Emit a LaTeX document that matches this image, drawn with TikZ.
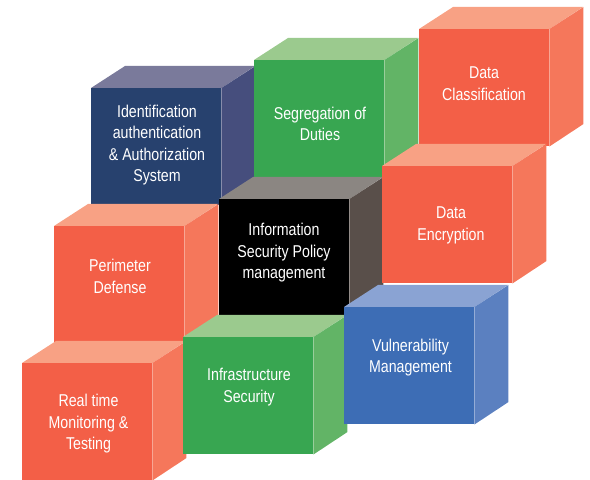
\documentclass[tikz,border=0pt]{standalone}
\usepackage{xcolor}
\usepackage{tikz}
\usepackage{fontspec}
\newfontfamily\condfont[FakeStretch=0.83]{Liberation Sans}

% face colours: front / top / side
\definecolor{navyF}{HTML}{27416E}
\definecolor{navyT}{HTML}{7A7A9B}
\definecolor{navyS}{HTML}{464E7D}
\definecolor{greenF}{HTML}{38A651}
\definecolor{greenT}{HTML}{9BCA8E}
\definecolor{greenS}{HTML}{62B466}
\definecolor{redF}{HTML}{F35F47}
\definecolor{redT}{HTML}{F8A184}
\definecolor{redS}{HTML}{F5775B}
\definecolor{blackF}{HTML}{000000}
\definecolor{blackT}{HTML}{8B8682}
\definecolor{blackS}{HTML}{594F4A}
\definecolor{blueF}{HTML}{3D6DB5}
\definecolor{blueT}{HTML}{8AA3D3}
\definecolor{blueS}{HTML}{5B80C0}

\tikzset{
  front/.style={minimum width=3.9cm, minimum height=3.51cm, inner sep=0pt, anchor=north west},
  txt/.style={text=white, align=center, font=\condfont\fontsize{14.6}{18.3}\selectfont}
}

\begin{document}
\begin{tikzpicture}[x=0.03cm, y=0.03cm]
    \useasboundingbox (0,0) rectangle (590,480);

    % Identification
    \node[front, fill=navyF] (idm) at (91,392) {};
    \fill[navyT] (idm.north west) -- ++(34,22) -- ++(130,0) -- (idm.north east) -- cycle;
    \fill[navyS] (idm.north east) -- ++(34,22) -- ++(0,-117) -- (idm.south east) -- cycle;
    \node[txt] (idmtext) at (157,335) {Identification\\authentication\\\& Authorization\\System};

    % Segregation
    \node[front, fill=greenF] (sod) at (254,420) {};
    \fill[greenT] (sod.north west) -- ++(34,22) -- ++(130,0) -- (sod.north east) -- cycle;
    \fill[greenS] (sod.north east) -- ++(34,22) -- ++(0,-117) -- (sod.south east) -- cycle;
    \node[txt] (sodtext) at (320,356) {Segregation of\\Duties};

    % Data classification
    \node[front, fill=redF] (dcl) at (419,451) {};
    \fill[redT] (dcl.north west) -- ++(34,22) -- ++(130,0) -- (dcl.north east) -- cycle;
    \fill[redS] (dcl.north east) -- ++(34,22) -- ++(0,-117) -- (dcl.south east) -- cycle;
    \node[txt] (dcltext) at (484,396.5) {Data\\Classification};

    % Policy
    \node[front, fill=blackF] (pol) at (219,281) {};
    \fill[blackT] (pol.north west) -- ++(34,22) -- ++(130,0) -- (pol.north east) -- cycle;
    \fill[blackS] (pol.north east) -- ++(34,22) -- ++(0,-117) -- (pol.south east) -- cycle;
    \node[txt] (poltext) at (284,227) {Information\\Security Policy\\management};

    % Data encryption
    \node[front, fill=redF] (enc) at (382,314) {};
    \fill[redT] (enc.north west) -- ++(34,22) -- ++(130,0) -- (enc.north east) -- cycle;
    \fill[redS] (enc.north east) -- ++(34,22) -- ++(0,-117) -- (enc.south east) -- cycle;
    \node[txt] (enctext) at (451,254.5) {Data\\Encryption};

    % Perimeter
    \node[front, fill=redF] (per) at (54,254) {};
    \fill[redT] (per.north west) -- ++(34,22) -- ++(130,0) -- (per.north east) -- cycle;
    \fill[redS] (per.north east) -- ++(34,22) -- ++(0,-117) -- (per.south east) -- cycle;
    \node[txt] (pertext) at (120,203.5) {Perimeter\\Defense};

    % Monitoring
    \node[front, fill=redF] (rtm) at (22,117) {};
    \fill[redT] (rtm.north west) -- ++(34,22) -- ++(130,0) -- (rtm.north east) -- cycle;
    \fill[redS] (rtm.north east) -- ++(34,22) -- ++(0,-117) -- (rtm.south east) -- cycle;
    \node[txt] (rtmtext) at (88.5,56) {Real time\\Monitoring \&\\Testing};

    % Infrastructure
    \node[front, fill=greenF] (inf) at (183,143) {};
    \fill[greenT] (inf.north west) -- ++(34,22) -- ++(130,0) -- (inf.north east) -- cycle;
    \fill[greenS] (inf.north east) -- ++(34,22) -- ++(0,-117) -- (inf.south east) -- cycle;
    \node[txt] (inftext) at (249,93) {Infrastructure\\Security};

    % Vulnerability
    \node[front, fill=blueF] (vul) at (344,173) {};
    \fill[blueT] (vul.north west) -- ++(34,22) -- ++(130,0) -- (vul.north east) -- cycle;
    \fill[blueS] (vul.north east) -- ++(34,22) -- ++(0,-117) -- (vul.south east) -- cycle;
    \node[txt] (vultext) at (410.5,122.5) {Vulnerability\\Management};
\end{tikzpicture}
\end{document}
